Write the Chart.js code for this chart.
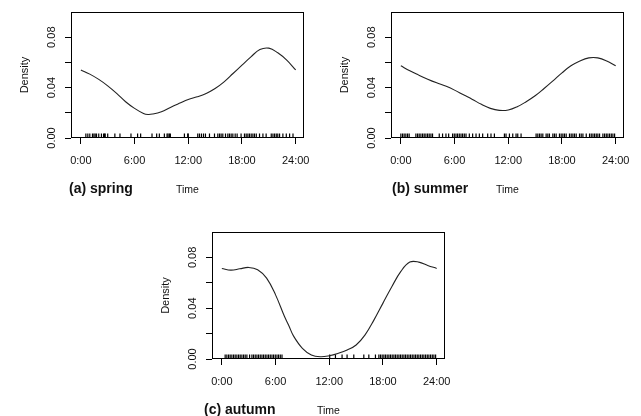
<!DOCTYPE html>
<html>
<head>
<meta charset="utf-8">
<script src="https://cdn.jsdelivr.net/npm/chart.js@4.4.1/dist/chart.umd.min.js"></script>
<style>
    body { margin: 0; background: #fff; width: 641px; height: 416px; overflow: hidden; position: relative; }
    canvas { position: absolute; }
    .cap { position: absolute; font-family: "Liberation Sans", Arial, sans-serif; font-weight: bold; font-size: 14px; line-height: 14px; color: #111; white-space: nowrap; }
</style>
</head>
<body>
<canvas id="spring" width="320" height="200" style="left:0;top:0"></canvas>
<canvas id="summer" width="320" height="200" style="left:320px;top:0"></canvas>
<canvas id="autumn" width="320" height="201" style="left:141px;top:220px"></canvas>
<div class="cap" style="left:69px;top:181px">(a) spring</div>
<div class="cap" style="left:392px;top:181px">(b) summer</div>
<div class="cap" style="left:204px;top:402px">(c) autumn</div>
<script>
// hour of day and the density estimate
var hours = [0, 1, 2, 3, 4, 5, 6, 7, 7.5, 8, 9, 10, 11, 12, 13, 14, 15, 16, 17, 18, 19, 20, 21, 22, 23, 24];
var springDensity = [0.054, 0.0507, 0.0465, 0.0414, 0.0354, 0.0288, 0.0235, 0.0195, 0.0187, 0.019, 0.0209, 0.0243, 0.0275, 0.0306, 0.0327, 0.0354, 0.0393, 0.0446, 0.0512, 0.0578, 0.0644, 0.0702, 0.0713, 0.0676, 0.0618, 0.054];
var summerDensity = [0.0573, 0.0533, 0.0499, 0.0467, 0.0438, 0.0412, 0.038, 0.0343, 0.0325, 0.0306, 0.0267, 0.0235, 0.0219, 0.0222, 0.0248, 0.0288, 0.0335, 0.0393, 0.0454, 0.0517, 0.0573, 0.0612, 0.0636, 0.0636, 0.0612, 0.0573];
var autumnDensity = [0.0713, 0.070, 0.071, 0.0721, 0.0703, 0.0637, 0.0505, 0.0334, 0.026, 0.0182, 0.0084, 0.0032, 0.0018, 0.0026, 0.0045, 0.0071, 0.011, 0.019, 0.0308, 0.044, 0.0571, 0.069, 0.0763, 0.0763, 0.0737, 0.0713];

// rug marks (observed times, hours)
var springRug = [0.56, 0.78, 1.0, 1.3, 1.46, 1.6, 1.75, 2.0, 2.3, 2.54, 2.65, 2.72, 3.0, 3.8, 4.37, 5.6, 6.34, 6.68, 7.95, 8.47, 8.77, 9.33, 9.63, 9.74, 9.89, 10.0, 11.57, 11.94, 12.0, 13.06, 13.25, 13.47, 13.7, 13.92, 14.37, 14.93, 15.3, 15.49, 15.67, 15.86, 16.16, 16.42, 16.6, 16.79, 16.98, 17.24, 17.46, 17.9, 18.28, 18.47, 18.66, 18.84, 19.03, 19.22, 19.4, 19.6, 19.96, 20.34, 20.7, 21.27, 21.46, 21.64, 21.83, 22.0, 22.2, 22.57, 22.95, 23.32, 23.7];
var summerRug = [0, 0.19, 0.37, 0.56, 0.75, 0.93, 1.68, 1.87, 2.05, 2.24, 2.43, 2.61, 2.8, 2.99, 3.17, 3.36, 3.54, 4.29, 4.66, 5.04, 5.34, 5.78, 5.97, 6.16, 6.34, 6.53, 6.72, 6.9, 7.09, 7.28, 7.65, 8.02, 8.4, 8.77, 9.14, 9.7, 10.07, 10.45, 11.57, 11.75, 12.13, 12.5, 12.87, 13.06, 13.43, 15.11, 15.3, 15.49, 15.67, 15.86, 16.23, 16.42, 16.6, 16.98, 17.16, 17.35, 17.72, 17.91, 18.1, 18.28, 18.47, 18.84, 19.03, 19.22, 19.4, 19.59, 19.96, 20.15, 20.34, 20.71, 21.08, 21.27, 21.46, 21.64, 21.83, 22.01, 22.2, 22.57, 22.76, 22.95, 23.13, 23.32, 23.51, 23.69, 23.88];
var autumnRug = [0.37, 0.56, 0.75, 0.93, 1.12, 1.31, 1.49, 1.68, 1.87, 2.05, 2.24, 2.43, 2.61, 2.8, 3.1, 3.36, 3.54, 3.73, 3.92, 4.1, 4.29, 4.48, 4.66, 4.85, 5.04, 5.22, 5.41, 5.6, 5.78, 5.97, 6.16, 6.34, 6.53, 6.72, 12.05, 12.69, 13.43, 13.99, 14.74, 15.86, 16.42, 17.16, 17.54, 17.72, 17.91, 18.1, 18.28, 18.47, 18.66, 18.84, 19.03, 19.22, 19.4, 19.59, 19.78, 19.96, 20.15, 20.34, 20.52, 20.71, 20.9, 21.08, 21.27, 21.46, 21.64, 21.83, 22.01, 22.2, 22.39, 22.57, 22.76, 22.95, 23.13, 23.32, 23.51, 23.69, 23.88];

var hourTicks = [0, 6, 12, 18, 24];
var hourLabels = ['0:00', '6:00', '12:00', '18:00', '24:00'];
var densityTicks = [0, 0.02, 0.04, 0.06, 0.08];
var densityLabels = ['0.00', '', '0.04', '', '0.08'];

var FONT = '"Liberation Sans", Arial, sans-serif';

// R-style frame: full box plus vertical y tick labels
var rFrame = {
    id: 'rFrame',
    afterDraw: function(chart) {
        var ctx = chart.ctx;
        var a = chart.chartArea;
        var y = chart.scales.y;
        ctx.save();
        ctx.strokeStyle = '#000';
        ctx.lineWidth = 1;
        ctx.strokeRect(Math.round(a.left) + 0.5, Math.round(a.top) + 0.5, Math.round(a.right - a.left) - 1, Math.round(a.bottom - a.top) - 1);
        ctx.fillStyle = '#111';
        ctx.font = '11px ' + FONT;
        ctx.textAlign = 'center';
        ctx.textBaseline = 'middle';
        densityTicks.forEach(function(v, i) {
            if (!densityLabels[i]) return;
            ctx.save();
            ctx.translate(52, y.getPixelForValue(v));
            ctx.rotate(-Math.PI / 2);
            ctx.fillText(densityLabels[i], 0, 0);
            ctx.restore();
        });
        ctx.restore();
    }
};

function toPoints(xs, ys) {
    return xs.map(function(x, i) { return {x: x, y: ys[i]}; });
}

function makePanel(id, density, rug) {
    return new Chart(document.getElementById(id), {
        type: 'scatter',
        data: {
            datasets: [{
                data: toPoints(hours, density),
                showLine: true,
                borderColor: '#222',
                borderWidth: 1.1,
                pointRadius: 0,
                tension: 0.4
            }, {
                data: rug.map(function(t) { return {x: t, y: 0.0018}; }),
                pointStyle: 'line',
                rotation: 90,
                pointRadius: 2.3,
                borderColor: '#000',
                borderWidth: 1.2,
                backgroundColor: '#000'
            }]
        },
        options: {
            responsive: false,
            animation: false,
            events: [],
            layout: { padding: { top: 12, right: 16, left: 0, bottom: 0 } },
            plugins: { legend: { display: false }, tooltip: { enabled: false } },
            scales: {
                x: {
                    type: 'linear',
                    min: -1.1,
                    max: 24.9,
                    afterBuildTicks: function(scale) {
                        scale.ticks = hourTicks.map(function(v) { return {value: v}; });
                    },
                    afterFit: function(scale) { scale.height = 62; },
                    border: { display: false },
                    grid: { drawOnChartArea: false, drawTicks: true, tickLength: 6, color: '#000' },
                    ticks: {
                        padding: 10,
                        maxRotation: 0,
                        color: '#111',
                        font: { family: FONT, size: 11 },
                        callback: function(value, index) { return hourLabels[index]; }
                    },
                    title: {
                        display: true,
                        text: 'Time',
                        color: '#111',
                        font: { family: FONT, size: 10.5 },
                        padding: { top: 0, bottom: 4 }
                    }
                },
                y: {
                    min: 0,
                    max: 0.1,
                    afterBuildTicks: function(scale) {
                        scale.ticks = densityTicks.map(function(v) { return {value: v}; });
                    },
                    afterFit: function(scale) { scale.width = 71; },
                    border: { display: false },
                    grid: { drawOnChartArea: false, drawTicks: true, tickLength: 6, color: '#000' },
                    ticks: { display: false },
                    title: {
                        display: true,
                        text: 'Density',
                        color: '#111',
                        font: { family: FONT, size: 11 },
                        padding: { top: 18, bottom: 0 }
                    }
                }
            }
        },
        plugins: [rFrame]
    });
}

makePanel('spring', springDensity, springRug);
makePanel('summer', summerDensity, summerRug);
makePanel('autumn', autumnDensity, autumnRug);
</script>
</body>
</html>
